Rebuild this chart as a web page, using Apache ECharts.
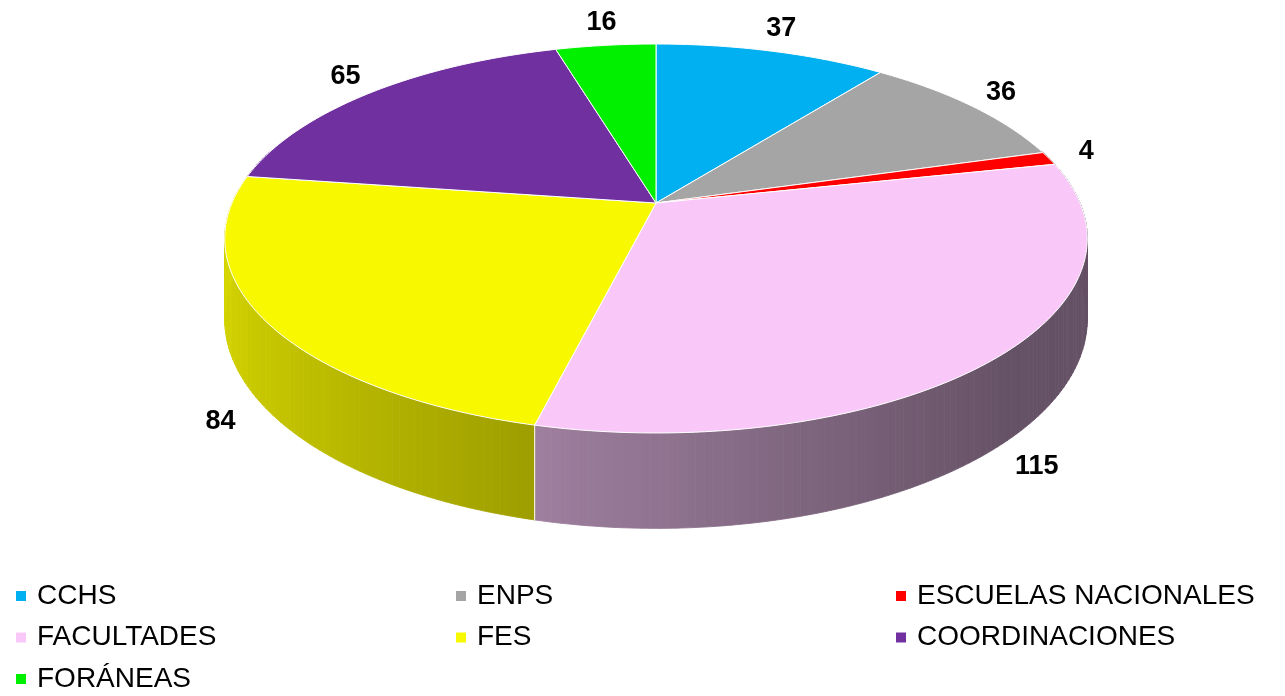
<!DOCTYPE html>
<html>
<head>
<meta charset="utf-8">
<script src="https://cdn.jsdelivr.net/npm/echarts@6/dist/echarts.min.js"></script>
<style>
  html, body { margin: 0; padding: 0; background: #fff; }
  #main { width: 1285px; height: 696px; }
</style>
</head>
<body>
<div id="main"></div>
<script>
const categories = ['CCHS', 'ENPS', 'ESCUELAS NACIONALES', 'FACULTADES', 'FES', 'COORDINACIONES', 'FORÁNEAS'];
const values = [37, 36, 4, 115, 84, 65, 16];
const colors = ['#00B0F0', '#A5A5A5', '#FF0000', '#F9C8F9', '#F8F800', '#7030A0', '#00F000'];

// legend columns
const legendCol1 = ['CCHS', 'FACULTADES', 'FORÁNEAS'];
const legendCol2 = ['ENPS', 'FES'];
const legendCol3 = ['ESCUELAS NACIONALES', 'COORDINACIONES'];

// fake 3d pie geometry (perspective view of a flat cylinder)
const CX = 656, CY = 203;
const R = 424;      // horizontal radius
const B = 188;      // vertical scale
const K = 0.1825;   // perspective strength
const H = 78;       // thickness

const total = values.reduce((a, b) => a + b, 0);

function proj(deg, r, drop) {
  const a = deg * Math.PI / 180;
  const s = Math.sin(a), d = -Math.cos(a);
  const f = 1 / (1 - K * r * d);
  return [CX + R * r * s * f, CY + B * r * d * f + drop * f];
}

function shade(hex, deg) {
  const a = (deg - 280) * Math.PI / 180;
  const t = Math.max(0.41, 0.62 + 0.25 * Math.cos(a));
  const n = parseInt(hex.slice(1), 16);
  const r = Math.round(((n >> 16) & 255) * t);
  const g = Math.round(((n >> 8) & 255) * t);
  const b = Math.round((n & 255) * t);
  return 'rgb(' + r + ',' + g + ',' + b + ')';
}

function renderSlice(params, api) {
  const i = params.dataIndex;
  let before = 0;
  for (let j = 0; j < i; j++) before += values[j];
  const a0 = before / total * 360;
  const a1 = (before + values[i]) / total * 360;
  const color = colors[i];
  const children = [];

  // side wall, only the part facing us
  const step = 1;
  for (let a = a0; a < a1; a += step) {
    const b = Math.min(a + step, a1);
    const mid = (a + b) / 2;
    if (Math.cos(mid * Math.PI / 180) > 0.3) continue;
    const c = shade(color, mid);
    children.push({
      type: 'polygon',
      z2: 1,
      shape: { points: [proj(a, 1, 0), proj(b, 1, 0), proj(b, 1, H), proj(a, 1, H)] },
      style: { fill: c, stroke: c, lineWidth: 0.8 }
    });
  }
  if (-Math.cos(a0 * Math.PI / 180) > 0) {
    children.push({
      type: 'line',
      z2: 5,
      shape: { x1: proj(a0, 1, 0)[0], y1: proj(a0, 1, 0)[1], x2: proj(a0, 1, H)[0], y2: proj(a0, 1, H)[1] },
      style: { stroke: '#fff', lineWidth: 1 }
    });
  }

  // top face
  const pts = [[CX, CY]];
  for (let a = a0; a < a1; a += 1) pts.push(proj(a, 1, 0));
  pts.push(proj(a1, 1, 0));
  children.push({
    type: 'polygon',
    z2: 10,
    shape: { points: pts },
    style: { fill: color, stroke: '#fff', lineWidth: 1, lineJoin: 'round' }
  });

  // value label
  const mid = (a0 + a1) / 2;
  const d = -Math.cos(mid * Math.PI / 180);
  const p = proj(mid, 1.1, d > 0 ? H : 0);
  children.push({
    type: 'text',
    z2: 20,
    x: p[0],
    y: p[1] + (d < 0 ? 10 * d : 0),
    style: {
      text: String(values[i]),
      fill: '#000',
      fontSize: 27,
      fontWeight: 'bold',
      fontFamily: '"Liberation Sans", Arial, sans-serif',
      align: 'center',
      verticalAlign: 'middle'
    }
  });

  return { type: 'group', children: children };
}

const pieData = categories.map((name, i) => ({ name: name, value: values[i], itemStyle: { color: colors[i] } }));

function legendCol(names, left) {
  return {
    data: names,
    orient: 'vertical',
    left: left,
    top: 581,
    padding: 0,
    icon: 'rect',
    itemWidth: 10,
    itemHeight: 10,
    itemGap: 11.5,
    selectedMode: false,
    textStyle: {
      fontSize: 28,
      lineHeight: 30,
      color: '#000',
      fontFamily: '"Liberation Sans", Arial, sans-serif',
      padding: [0, 0, 0, 6]
    }
  };
}

const chart = echarts.init(document.getElementById('main'));
chart.setOption({
  backgroundColor: '#fff',
  animation: false,
  legend: [legendCol(legendCol1, 16), legendCol(legendCol2, 456), legendCol(legendCol3, 896)],
  series: [
    {
      type: 'custom',
      coordinateSystem: 'none',
      renderItem: renderSlice,
      data: pieData
    },
    {
      // invisible pie, only feeds the legend
      type: 'pie',
      radius: [0, 0],
      silent: true,
      label: { show: false },
      labelLine: { show: false },
      data: pieData
    }
  ]
});
</script>
</body>
</html>
